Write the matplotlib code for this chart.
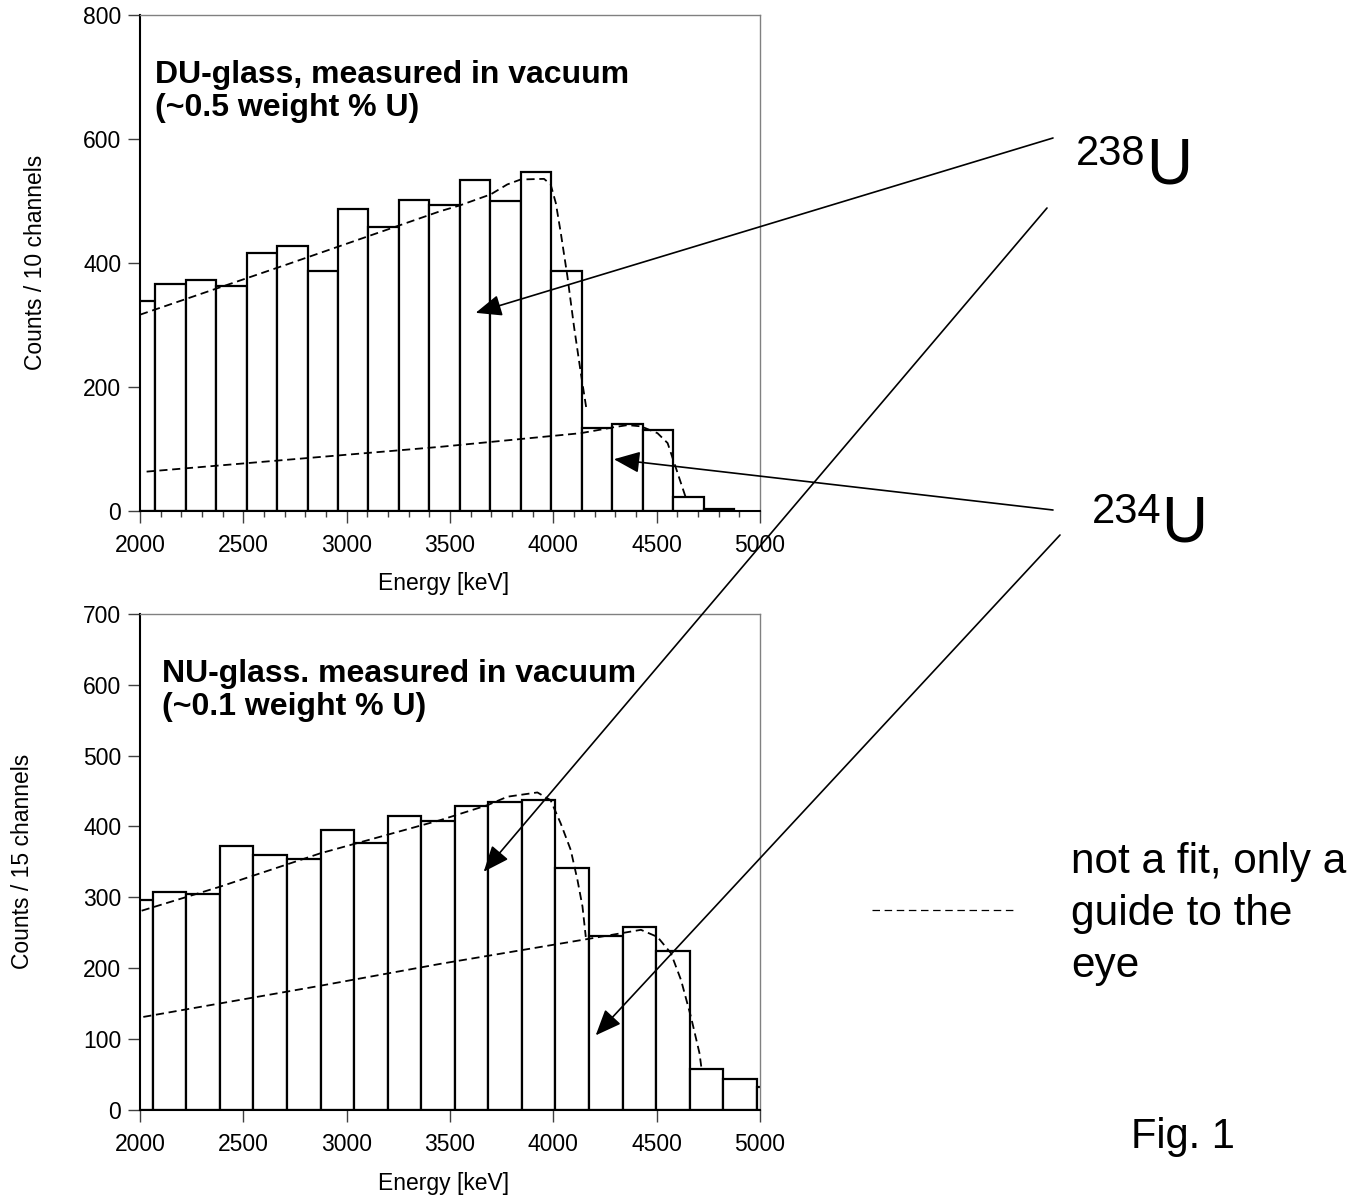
import numpy as np
import matplotlib
matplotlib.use('Agg')
import matplotlib.pyplot as plt
from matplotlib.patches import ConnectionPatch
from matplotlib.lines import Line2D

plt.rcParams['font.family'] = ['Liberation Sans', 'DejaVu Sans']

# ---------------- data ----------------
# DU-glass spectrum (10 channels per bin)
du_first_edge = 1925.6      # keV, left edge of first (partially visible) bin
du_bin_width = 147.5        # keV
du_counts = [338, 366, 372, 363, 416, 426, 387, 486, 457, 501,
             493, 533, 500, 546, 387, 133, 140, 130, 22, 2]

# NU-glass spectrum (15 channels per bin)
nu_first_edge = 1899.2
nu_bin_width = 162.4
nu_counts = [296, 308, 305, 372, 359, 354, 395, 377, 415, 407,
             429, 435, 437, 342, 245, 258, 224, 57, 43, 32]

# guide-to-the-eye curves (energy keV, counts)
du_u238_e = [2000, 2711, 3454, 3546, 3697, 3777, 3842, 3955, 3987, 4012, 4036, 4068, 4100, 4133, 4162]
du_u238_c = [316, 397, 483, 492, 510, 526, 534, 535, 526, 496, 448, 378, 297, 222, 160]
du_u234_e = [2032, 3454, 4133, 4300, 4359, 4424, 4504, 4553, 4585, 4618, 4642]
du_u234_c = [63, 103, 125, 135, 138, 136, 125, 109, 77, 44, 20]

nu_u238_e = [2008, 2388, 2872, 3454, 3551, 3681, 3778, 3923, 3987, 4036, 4084, 4117, 4141, 4157]
nu_u238_c = [281, 315, 362, 409, 418, 430, 442, 448, 437, 404, 367, 324, 287, 244]
nu_u234_e = [2016, 2872, 3454, 4165, 4424, 4504, 4569, 4618, 4666, 4707, 4718]
nu_u234_c = [131, 175, 206, 241, 254, 244, 221, 183, 131, 80, 56]

# arrow tips (energy keV, counts)
du_arrow_238 = (3624, 319)
du_arrow_234 = (4293, 83)
nu_arrow_238 = (3663, 336)
nu_arrow_234 = (4205, 105)

x_ticks = [2000, 2500, 3000, 3500, 4000, 4500, 5000]

# ---------------- figure ----------------
W, H = 1367, 1199
fig = plt.figure(figsize=(W / 100, H / 100), dpi=100)


def fx(px):
    return px / W


def fy(py):
    return 1 - py / H


ax1 = fig.add_axes([fx(140), fy(510.7), (760 - 140) / W, (510.7 - 14.5) / H])
ax2 = fig.add_axes([fx(140), fy(1109.7), (760 - 140) / W, (1109.7 - 614) / H])

FS = 16.5


def style(ax, ymax, ystep, minor):
    ax.set_xlim(2000, 5000)
    ax.set_ylim(0, ymax)
    ax.set_xticks(x_ticks)
    ax.set_yticks(np.arange(0, ymax + 1, ystep))
    if minor:
        ax.set_xticks(np.arange(2000, 5001, 100), minor=True)
    for s in ['top', 'right']:
        ax.spines[s].set_color('#808080')
        ax.spines[s].set_linewidth(1.0)
    for s in ['left', 'bottom']:
        ax.spines[s].set_color('black')
        ax.spines[s].set_linewidth(1.5)
    ax.tick_params(axis='both', which='major', direction='out', length=8.5,
                   width=1, labelsize=FS, color='#404040')
    ax.tick_params(axis='x', which='major', pad=8)
    ax.tick_params(axis='y', which='major', pad=5)
    ax.tick_params(axis='x', which='minor', direction='out', length=4.3,
                   width=1, color='#404040')


def draw_hist(ax, first_edge, width, counts):
    lefts = first_edge + width * np.arange(len(counts))
    ax.bar(lefts, counts, width=width, align='edge', color='white',
           edgecolor='black', linewidth=1.6, zorder=1)


def guide(ax, e, c):
    ax.plot(e, c, color='black', lw=1.3, linestyle=(0, (4.5, 2.6)), zorder=3)


# top panel
style(ax1, 800, 200, True)
draw_hist(ax1, du_first_edge, du_bin_width, du_counts)
guide(ax1, du_u238_e, du_u238_c)
guide(ax1, du_u234_e, du_u234_c)
ax1.text(0.024, 0.862, 'DU-glass, measured in vacuum', transform=ax1.transAxes,
         fontsize=23, fontweight='bold', va='baseline', ha='left')
ax1.text(0.024, 0.795, '(~0.5 weight % U)', transform=ax1.transAxes,
         fontsize=23, fontweight='bold', va='baseline', ha='left')
ax1.set_xlabel('Energy [keV]', fontsize=FS)
ax1.xaxis.set_label_coords(0.49, -0.146)
ax1.xaxis.label.set_va('center')
ax1.set_ylabel('Counts / 10 channels', fontsize=FS)
ax1.yaxis.set_label_coords(-0.168, 0.5)
ax1.yaxis.label.set_va('center')

# bottom panel
style(ax2, 700, 100, False)
draw_hist(ax2, nu_first_edge, nu_bin_width, nu_counts)
guide(ax2, nu_u238_e, nu_u238_c)
guide(ax2, nu_u234_e, nu_u234_c)
ax2.text(0.036, 0.863, 'NU-glass. measured in vacuum', transform=ax2.transAxes,
         fontsize=23, fontweight='bold', va='baseline', ha='left')
ax2.text(0.036, 0.796, '(~0.1 weight % U)', transform=ax2.transAxes,
         fontsize=23, fontweight='bold', va='baseline', ha='left')
ax2.set_xlabel('Energy [keV]', fontsize=FS)
ax2.xaxis.set_label_coords(0.49, -0.148)
ax2.xaxis.label.set_va('center')
ax2.set_ylabel('Counts / 15 channels', fontsize=FS)
ax2.yaxis.set_label_coords(-0.190, 0.5)
ax2.yaxis.label.set_va('center')

# ---------------- annotations ----------------
fig.text(fx(1076), fy(165), '238', fontsize=30, va='baseline', ha='left')
fig.text(fx(1146), fy(184), 'U', fontsize=46, va='baseline', ha='left')
fig.text(fx(1092), fy(523), '234', fontsize=30, va='baseline', ha='left')
fig.text(fx(1161), fy(542), 'U', fontsize=46, va='baseline', ha='left')


def arrow(start_px, ax, tip):
    con = ConnectionPatch(xyA=(fx(start_px[0]), fy(start_px[1])), coordsA=fig.transFigure,
                          xyB=tip, coordsB=ax.transData,
                          arrowstyle='-|>,head_length=0.8,head_width=0.33',
                          mutation_scale=20, lw=1.2, color='black',
                          shrinkA=0, shrinkB=0, zorder=5)
    fig.add_artist(con)


arrow((1053, 138), ax1, du_arrow_238)
arrow((1047, 208), ax2, nu_arrow_238)
arrow((1053, 510), ax1, du_arrow_234)
arrow((1060, 535), ax2, nu_arrow_234)

# legend for dashed line
fig.add_artist(Line2D([fx(872), fx(1017)], [fy(910), fy(910)], color='black',
                      lw=0.9, linestyle=(0, (6, 3.7))))
fig.text(fx(1071), fy(873), 'not a fit, only a', fontsize=30.5, va='baseline', ha='left')
fig.text(fx(1071), fy(925), 'guide to the', fontsize=30.5, va='baseline', ha='left')
fig.text(fx(1071), fy(977), 'eye', fontsize=30.5, va='baseline', ha='left')

fig.text(fx(1131), fy(1148), 'Fig. 1', fontsize=30, va='baseline', ha='left')

fig.savefig('out.png', dpi=100, facecolor='white')
